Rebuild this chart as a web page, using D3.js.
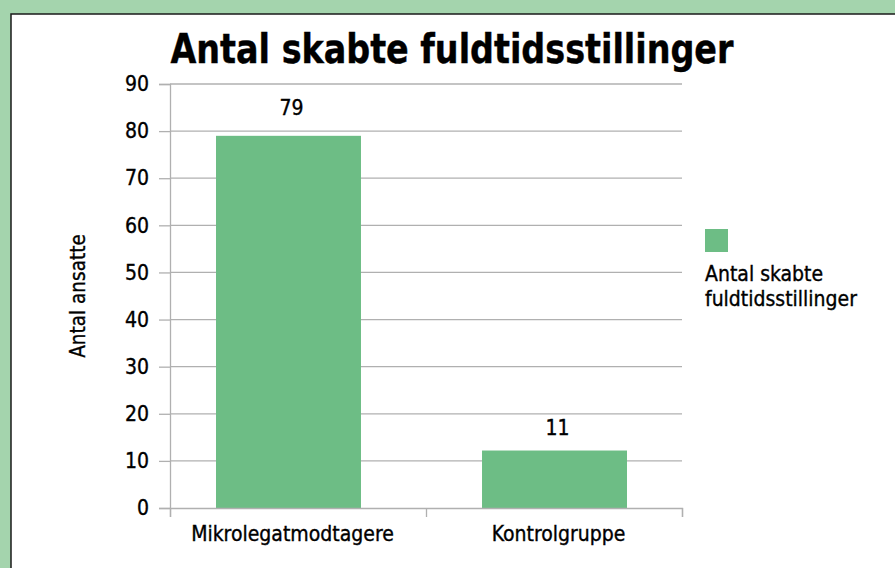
<!DOCTYPE html>
<html>
<head>
<meta charset="utf-8">
<script src="https://cdn.jsdelivr.net/npm/d3@7"></script>
<style>
  body { margin: 0; background: #a4d4ad; }
  svg { display: block; }
  text { font-family: "DejaVu Sans Condensed", "DejaVu Sans", sans-serif; fill: #000; }
  .reg { stroke: #000; stroke-width: 0.35px; }
</style>
</head>
<body>
<svg></svg>
<script>
const w = 895;
const h = 568;

const categories = ['Mikrolegatmodtagere', 'Kontrolgruppe'];
const barValues = [79, 12.2];
const labelValues = [79, 11];
const yTicks = [0, 10, 20, 30, 40, 50, 60, 70, 80, 90];
const legendLines = ['Antal skabte', 'fuldtidsstillinger'];

const barColor = '#6dbd85';
const gridColor = '#b0b0b0';

let canvas = d3.select('svg').attr('width', w).attr('height', h);

// white frame
canvas
	.append('rect')
	.attr('x', 11)
	.attr('y', 14)
	.attr('width', 900)
	.attr('height', 600)
	.attr('fill', '#fff')
	.attr('stroke', '#1a1a1a')
	.attr('stroke-width', 1.5);

const yScale = d3.scaleLinear().domain([0, 90]).range([508, 84]);
const xFrame = d3.scaleLinear().domain([0, categories.length]).range([170, 682]);
const xScale = d3.scaleBand().domain(categories).range([216, 627]).paddingInner(0.455).paddingOuter(0);

// gridlines
canvas
	.append('g')
	.selectAll('line')
	.data(yTicks.filter((d) => d > 0))
	.enter()
	.append('line')
	.attr('x1', 170)
	.attr('x2', 682)
	.attr('y1', (d) => yScale(d))
	.attr('y2', (d) => yScale(d))
	.attr('stroke', gridColor)
	.attr('stroke-width', 1.3);

// y axis
let yAxis = d3.axisLeft(yScale).tickValues(yTicks).tickSize(11).tickPadding(10);
let gy = canvas.append('g').attr('transform', 'translate(170,0)').call(yAxis);
gy.select('.domain').attr('stroke', gridColor).attr('stroke-width', 1.3);
gy.selectAll('.tick line').attr('stroke', gridColor).attr('stroke-width', 1.3);
gy.selectAll('.tick text')
	.attr('class', 'reg')
	.attr('font-size', 21)
	.attr('font-family', null)
	.attr('fill', '#000');

// bars
canvas
	.append('g')
	.selectAll('rect')
	.data(categories)
	.enter()
	.append('rect')
	.attr('x', (d) => xScale(d))
	.attr('width', xScale.bandwidth())
	.attr('y', (d, i) => yScale(barValues[i]))
	.attr('height', (d, i) => yScale(0) - yScale(barValues[i]))
	.attr('fill', barColor);

// x axis
let xAxis = d3.axisBottom(xFrame).tickValues(d3.range(categories.length + 1)).tickSize(9).tickFormat('');
let gx = canvas.append('g').attr('transform', `translate(0,${yScale(0)})`).call(xAxis);
gx.select('.domain').attr('stroke', gridColor).attr('stroke-width', 1.3);
gx.selectAll('.tick line').attr('stroke', gridColor).attr('stroke-width', 1.3);

// category labels
canvas
	.append('g')
	.selectAll('text')
	.data(categories)
	.enter()
	.append('text')
	.attr('class', 'reg')
	.attr('x', (d) => xScale(d) + xScale.bandwidth() / 2 + 4)
	.attr('y', 541)
	.attr('text-anchor', 'middle')
	.attr('font-size', 21)
	.text((d) => d);

// value labels
canvas
	.append('g')
	.selectAll('text')
	.data(categories)
	.enter()
	.append('text')
	.attr('class', 'reg')
	.attr('x', (d) => xScale(d) + xScale.bandwidth() / 2 + 3)
	.attr('y', (d, i) => yScale(labelValues[i]) - 21)
	.attr('text-anchor', 'middle')
	.attr('font-size', 21)
	.text((d, i) => labelValues[i]);

// y axis title
canvas
	.append('text')
	.attr('class', 'reg')
	.attr('transform', 'translate(85,296) rotate(-90)')
	.attr('text-anchor', 'middle')
	.attr('font-size', 20.5)
	.text('Antal ansatte');

// chart title
canvas
	.append('text')
	.attr('x', 452)
	.attr('y', 63)
	.attr('text-anchor', 'middle')
	.attr('font-size', 41)
	.attr('font-weight', 'bold')
	.attr('stroke', '#000')
	.attr('stroke-width', 0.4)
	.attr('textLength', 563)
	.attr('lengthAdjust', 'spacingAndGlyphs')
	.text('Antal skabte fuldtidsstillinger');

// legend
let legend = canvas.append('g').attr('transform', 'translate(705,229)');
legend.append('rect').attr('width', 23).attr('height', 23).attr('fill', barColor);
legend
	.selectAll('text')
	.data(legendLines)
	.enter()
	.append('text')
	.attr('class', 'reg')
	.attr('x', 0)
	.attr('y', (d, i) => 52 + i * 25)
	.attr('font-size', 21)
	.text((d) => d);
</script>
</body>
</html>
